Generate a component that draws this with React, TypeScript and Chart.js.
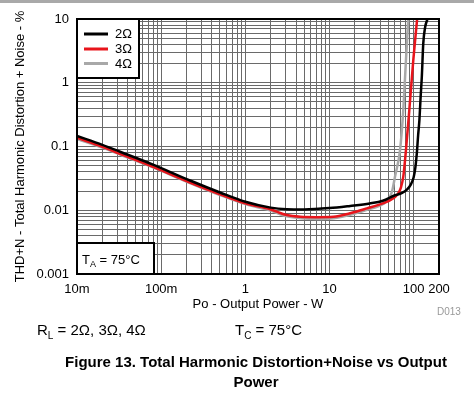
import React, { useEffect, useRef } from "react";
import { Chart, registerables } from "chart.js";

Chart.register(...registerables);

const FONT = "'Liberation Sans', Arial, Helvetica, sans-serif";

const seriesLabels = ["2Ω", "3Ω", "4Ω"];
const seriesColors = ["#000000", "#e8141b", "#a8a8a8"];

// 2 ohm (black)
const power2 = [0.01, 0.02, 0.033, 0.08, 0.224, 0.5, 1, 2, 3.1, 5, 10, 17.6, 30, 43, 60, 72, 83, 92, 100, 105, 109, 113, 117, 121, 125, 130, 137, 146];
const thd2 = [0.146, 0.106, 0.082, 0.052, 0.029, 0.019, 0.0136, 0.011, 0.0104, 0.0103, 0.0108, 0.0117, 0.0128, 0.0141, 0.0172, 0.0185, 0.021, 0.025, 0.033, 0.048, 0.078, 0.15, 0.26, 0.6, 1.24, 4.1, 7.5, 10];

// 3 ohm (red)
const power3 = [0.01, 0.02, 0.033, 0.08, 0.224, 0.5, 1, 2, 2.36, 3.1, 4.5, 7.1, 11.2, 17.6, 27.8, 43.9, 57.4, 65.6, 70, 75.3, 81, 88.8, 99, 110];
const thd3 = [0.137, 0.099, 0.076, 0.048, 0.027, 0.0178, 0.0128, 0.0103, 0.0095, 0.0084, 0.0079, 0.0078, 0.0079, 0.009, 0.0107, 0.0129, 0.0154, 0.0184, 0.022, 0.0336, 0.088, 0.374, 2.27, 10];

// 4 ohm (gray)
const power4 = [0.01, 0.02, 0.033, 0.08, 0.224, 0.5, 1, 2, 3, 4.5, 7.1, 11.2, 17.6, 27.8, 43.9, 52, 56, 60, 68.9, 75.3, 81, 86.3];
const thd4 = [0.131, 0.096, 0.074, 0.047, 0.0265, 0.0173, 0.0125, 0.0099, 0.0081, 0.0075, 0.0073, 0.0075, 0.0085, 0.0102, 0.0126, 0.016, 0.021, 0.0336, 0.088, 0.374, 2.27, 10];

const xGridValues = [
  0.01, 0.02, 0.03, 0.04, 0.05, 0.06, 0.07, 0.08, 0.09,
  0.1, 0.2, 0.3, 0.4, 0.5, 0.6, 0.7, 0.8, 0.9,
  1, 2, 3, 4, 5, 6, 7, 8, 9,
  10, 20, 30, 40, 50, 60, 70, 80, 90,
  100, 200,
];
const xLabelValues = [0.01, 0.1, 1, 10, 100, 200];
const xLabels = ["10m", "100m", "1", "10", "100", "200"];

const yGridValues = [
  0.001, 0.002, 0.003, 0.004, 0.005, 0.006, 0.007, 0.008, 0.009,
  0.01, 0.02, 0.03, 0.04, 0.05, 0.06, 0.07, 0.08, 0.09,
  0.1, 0.2, 0.3, 0.4, 0.5, 0.6, 0.7, 0.8, 0.9,
  1, 2, 3, 4, 5, 6, 7, 8, 9,
  10,
];
const yLabelValues = [0.001, 0.01, 0.1, 1, 10];
const yLabels = ["0.001", "0.01", "0.1", "1", "10"];

function labelFor(v: number, values: number[], labels: string[]) {
  for (let i = 0; i < values.length; i++) {
    if (Math.abs(v - values[i]) / values[i] < 1e-6) return labels[i];
  }
  return "";
}

const framePlugin = {
  id: "framePlugin",
  afterDraw(chart: any) {
    const { ctx, chartArea } = chart;
    const { left, top, right, bottom } = chartArea;
    ctx.save();
    // legend box
    ctx.fillStyle = "#ffffff";
    ctx.fillRect(left, top, 62, 59);
    ctx.lineWidth = 2;
    ctx.strokeStyle = "#000";
    ctx.strokeRect(left, top, 62, 59);
    const ys = [34, 49, 63.5];
    ctx.font = `13px ${FONT}`;
    ctx.textBaseline = "middle";
    ctx.textAlign = "left";
    for (let i = 0; i < seriesLabels.length; i++) {
      ctx.beginPath();
      ctx.strokeStyle = seriesColors[i];
      ctx.lineWidth = 3;
      ctx.moveTo(84, ys[i]);
      ctx.lineTo(108, ys[i]);
      ctx.stroke();
      ctx.fillStyle = "#000";
      ctx.fillText(seriesLabels[i], 115, ys[i] + 0.5);
    }
    // TA box
    ctx.fillStyle = "#ffffff";
    ctx.fillRect(left, 243, 77, bottom - 243);
    ctx.lineWidth = 2;
    ctx.strokeStyle = "#000";
    ctx.strokeRect(left, 243, 77, bottom - 243);
    ctx.fillStyle = "#000";
    ctx.textBaseline = "alphabetic";
    ctx.font = `13px ${FONT}`;
    let x = 82;
    ctx.fillText("T", x, 263.5);
    x += ctx.measureText("T").width;
    ctx.font = `9px ${FONT}`;
    ctx.fillText("A", x, 266.5);
    x += ctx.measureText("A").width;
    ctx.font = `13px ${FONT}`;
    ctx.fillText(" = 75°C", x, 263.5);
    // frame
    ctx.lineWidth = 2;
    ctx.strokeStyle = "#000";
    ctx.strokeRect(left, top, right - left, bottom - top);
    ctx.restore();
  },
};

export default function App() {
  const canvasRef = useRef<HTMLCanvasElement | null>(null);

  useEffect(() => {
    if (!canvasRef.current) return;
    const mk = (p: number[], t: number[]) => p.map((x, i) => ({ x, y: t[i] }));
    const dataSets = [mk(power2, thd2), mk(power3, thd3), mk(power4, thd4)];
    const chart = new Chart(canvasRef.current, {
      type: "line",
      data: {
        datasets: dataSets.map((d, i) => ({
          label: seriesLabels[i],
          data: d,
          borderColor: seriesColors[i],
          backgroundColor: seriesColors[i],
          borderWidth: 2.5,
          pointRadius: 0,
          fill: false,
          cubicInterpolationMode: "monotone" as const,
        })),
      },
      options: {
        responsive: false,
        animation: false,
        devicePixelRatio: 1,
        events: [],
        layout: { padding: { left: 0, top: 19, right: 35, bottom: 69 } },
        plugins: { legend: { display: false }, tooltip: { enabled: false } },
        scales: {
          x: {
            type: "logarithmic",
            min: 0.01,
            max: 200,
            afterFit: (s: any) => {
              s.height = 50;
            },
            afterBuildTicks: (s: any) => {
              s.ticks = xGridValues.map((v) => ({ value: v }));
            },
            ticks: {
              autoSkip: false,
              maxRotation: 0,
              padding: 8,
              color: "#000",
              font: { family: FONT, size: 13 },
              callback: (v: any) => labelFor(Number(v), xLabelValues, xLabels),
            },
            grid: { color: "#6a6a6a", lineWidth: 1, drawTicks: false },
            border: { display: false },
            title: {
              display: true,
              text: "Po - Output Power - W",
              color: "#000",
              font: { family: FONT, size: 13, lineHeight: 1.2 },
              padding: { top: 0, bottom: 12 },
            },
          },
          y: {
            type: "logarithmic",
            min: 0.001,
            max: 10,
            afterFit: (s: any) => {
              s.width = 77;
            },
            afterBuildTicks: (s: any) => {
              s.ticks = yGridValues.map((v) => ({ value: v }));
            },
            ticks: {
              autoSkip: false,
              padding: 8,
              color: "#000",
              font: { family: FONT, size: 13 },
              callback: (v: any) => labelFor(Number(v), yLabelValues, yLabels),
            },
            grid: { color: "#6a6a6a", lineWidth: 1, drawTicks: false },
            border: { display: false },
            title: {
              display: true,
              text: "THD+N - Total Harmonic Distortion + Noise - %",
              color: "#000",
              font: { family: FONT, size: 13, lineHeight: 1.2 },
              padding: { top: 13, bottom: 0 },
            },
          },
        },
      },
      plugins: [framePlugin],
    } as any);
    return () => chart.destroy();
  }, []);

  const textBase: React.CSSProperties = {
    position: "absolute",
    fontFamily: FONT,
    color: "#000",
    whiteSpace: "nowrap",
  };

  return (
    <div style={{ position: "absolute", left: 0, top: 0, width: 474, height: 393, background: "#fff", overflow: "hidden" }}>
      <div style={{ position: "absolute", left: 0, top: 0, width: 474, height: 3, background: "#a9a9a9" }} />
      <canvas ref={canvasRef} width={474} height={393} style={{ position: "absolute", left: 0, top: 0, width: 474, height: 393 }} />
      <div style={{ ...textBase, left: 437, top: 306, fontSize: 10, lineHeight: "12px", color: "#999" }}>D013</div>
      <div style={{ ...textBase, left: 37, top: 321, fontSize: 15, lineHeight: "18px" }}>
        R<span style={{ fontSize: 10, position: "relative", top: 4 }}>L</span> = 2Ω, 3Ω, 4Ω
      </div>
      <div style={{ ...textBase, left: 235, top: 321, fontSize: 15, lineHeight: "18px" }}>
        T<span style={{ fontSize: 10, position: "relative", top: 4 }}>C</span> = 75°C
      </div>
      <div style={{ ...textBase, left: 0, width: 512, top: 352, fontSize: 15, lineHeight: "20px", fontWeight: "bold", textAlign: "center" }}>
        Figure 13. Total Harmonic Distortion+Noise vs Output
        <br />
        Power
      </div>
    </div>
  );
}
